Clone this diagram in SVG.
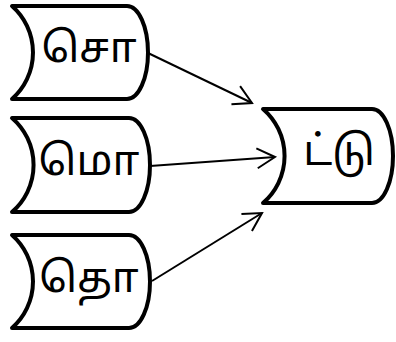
<svg xmlns="http://www.w3.org/2000/svg" width="396" height="342" viewBox="0 0 396 342">
<style>
.box{fill:#fff;stroke:#000;stroke-width:4;stroke-linejoin:round;stroke-linecap:round}
.lbl{font-family:"Noto Sans Tamil","Lohit Tamil","Noto Sans","DejaVu Sans",sans-serif;font-size:42px;fill:#000;text-anchor:middle}
.arr{stroke:#000;stroke-width:2;fill:none;marker-end:url(#ah)}
</style>
<defs>
<marker id="ah" markerUnits="userSpaceOnUse" markerWidth="30" markerHeight="30" refX="0" refY="0" orient="auto" overflow="visible" viewBox="-20 -15 30 30">
<path d="M-18,-10 L0,0 L-18,10" fill="none" stroke="#000" stroke-width="2" stroke-linejoin="miter"/>
</marker>
</defs>
<rect width="396" height="342" fill="#fff"/>
<g id="connectors">
<line class="arr" x1="148" y1="53" x2="252" y2="103"/>
<line class="arr" x1="150" y1="166" x2="275" y2="157"/>
<line class="arr" x1="152" y1="281" x2="262" y2="213"/>
</g>
<g id="node-so">
<path class="box" d="M12,6 H127 A21 46.5 0 0 1 127,99 H12 A62 62 0 0 0 12,6 Z"/>
<text class="lbl" x="89" y="62">சொ</text>
</g>
<g id="node-mo">
<path class="box" d="M12,118 H129 A21 47 0 0 1 129,212 H12 A62 62 0 0 0 12,118 Z"/>
<text class="lbl" x="89" y="175">மொ</text>
</g>
<g id="node-tho">
<path class="box" d="M12,235 H129 A21 46.5 0 0 1 129,328 H12 A62 62 0 0 0 12,235 Z"/>
<text class="lbl" x="89" y="292">தொ</text>
</g>
<g id="node-ttu">
<path class="box" d="M263,109 H372 A21 47 0 0 1 372,203 H263 A62 62 0 0 0 263,109 Z"/>
<text class="lbl" x="339" y="165">ட்டு</text>
</g>
</svg>
